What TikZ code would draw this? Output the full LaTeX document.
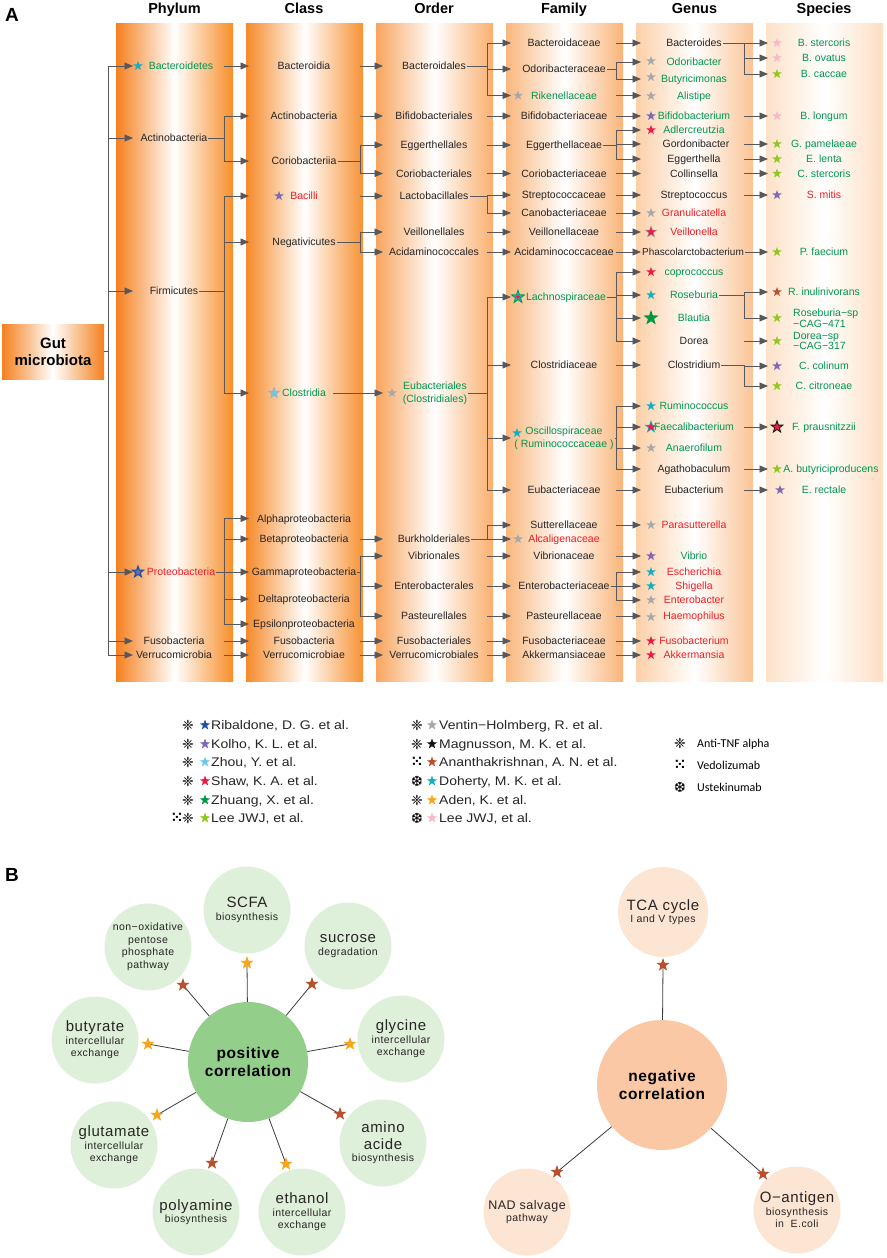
\documentclass[tikz,border=0pt]{standalone}
\usepackage{fontspec}
\setmainfont{Liberation Sans}
\newfontfamily\symfont{DejaVu Sans}
\newfontfamily\bfont[LetterSpace=4]{Liberation Sans}
\newfontfamily\legfont[FakeStretch=1.12]{Liberation Sans}
\newfontfamily\carl{Carlito}
\usetikzlibrary{arrows.meta,shapes.geometric,calc}
\definecolor{orA}{RGB}{245,128,31}
\definecolor{orA2}{RGB}{247,142,40}
\definecolor{orB}{RGB}{246,138,42}
\definecolor{orB2}{RGB}{247,146,52}
\definecolor{orC}{RGB}{248,165,95}
\definecolor{orC2}{RGB}{249,175,110}
\definecolor{orD}{RGB}{249,183,125}
\definecolor{orD2}{RGB}{249,180,120}
\definecolor{orE}{RGB}{252,208,168}
\definecolor{orE2}{RGB}{250,196,150}
\definecolor{orF}{RGB}{253,226,201}
\definecolor{orF2}{RGB}{253,222,195}
\definecolor{lnc}{RGB}{88,88,92}
\definecolor{txk}{RGB}{40,36,37}
\definecolor{txg}{RGB}{0,150,80}
\definecolor{txr}{RGB}{237,28,36}
\definecolor{cRib}{RGB}{30,80,165}
\definecolor{cKol}{RGB}{125,105,180}
\definecolor{cZhou}{RGB}{110,200,235}
\definecolor{cShaw}{RGB}{238,25,70}
\definecolor{cZhuang}{RGB}{0,150,70}
\definecolor{cLee}{RGB}{145,200,30}
\definecolor{cVen}{RGB}{165,168,172}
\definecolor{cMag}{RGB}{20,20,20}
\definecolor{cAna}{RGB}{185,80,45}
\definecolor{cDoh}{RGB}{20,175,195}
\definecolor{cAden}{RGB}{248,165,25}
\definecolor{cLeeP}{RGB}{248,185,195}
\definecolor{posG}{RGB}{147,207,139}
\definecolor{satG}{RGB}{222,240,217}
\definecolor{negC}{RGB}{250,200,165}
\definecolor{satP}{RGB}{253,229,211}
\definecolor{lnB}{RGB}{60,60,60}
\newcommand\bbg{\bfont\fontsize{15}{17}\selectfont}
\newcommand\bsm{\bfont\fontsize{10.5}{12.5}\selectfont}
\newcommand\tnd[4]{\node[#1] (#2) at (#3) {#4};}
\newcommand\Str[4][10]{\node[st,fill=#3,minimum size=#1pt] (#2) at (#4) {};}
\newcommand\sarr[3]{\draw[arr] (#1 -| J#3) -- (#2 -| T#3);}
\newcommand\brarr[3]{\draw[arr] (#1 -| J#3) |- (#2 -| T#3);}
\newcommand\stemln[2]{\draw[ln] (#1.east) -- (#1 -| J#2);}
\begin{document}
\begin{tikzpicture}[x=1pt,y=-1pt,
 tx/.style={font=\fontsize{10.5}{12}\selectfont, inner sep=1pt, text height=7.6pt, text depth=0.6pt, text=txk},
 tg/.style={tx,text=txg}, tr/.style={tx,text=txr},
 tml/.style={tx, text height=, text depth=, align=center, font=\fontsize{10.5}{13}\selectfont},
 hdr/.style={font=\bfseries\fontsize{14.5}{16}\selectfont, anchor=base, inner sep=0pt, text=black},
 arr/.style={draw=lnc, line width=0.9pt, -{Triangle[length=8.5pt,width=7pt]}},
 ln/.style={draw=lnc, line width=0.9pt},
 st/.style={star, star points=5, star point ratio=2.5, inner sep=0pt, minimum size=10pt, draw=none},
 leg/.style={anchor=west, inner sep=0pt, font=\legfont\fontsize{12.5}{14}\selectfont, text=txk, text height=9pt, text depth=0pt},
 sym/.style={inner sep=0pt, font=\symfont\bfseries\fontsize{14}{14}\selectfont, text=black},
 psat/.style={circle, fill=satG, minimum size=87pt, inner sep=0pt, align=center, text=txk, font=\bsm},
 nsat/.style={psat, fill=satP},
 bln/.style={draw=lnB, line width=0.8pt}]
\useasboundingbox (0,0) rectangle (886,1258);
% ---------- bars
\shade[left color=orA,right color=orA2,middle color=white] (116,23) rectangle (233,681);
\shade[left color=orB,right color=orB2,middle color=white] (246,23) rectangle (363,681);
\shade[left color=orC,right color=orC2,middle color=white] (376,23) rectangle (493,681);
\shade[left color=orD,right color=orD2,middle color=white] (506,23) rectangle (623,681);
\shade[left color=orE,right color=orE2,middle color=white] (636,23) rectangle (753,681);
\shade[left color=orF,right color=orF2,middle color=white] (766,23) rectangle (883,681);
% ---------- headers
\node[font=\bfseries\fontsize{19}{20}\selectfont, anchor=base west, inner sep=0pt] (lA) at (5,21.5) {A};
\node[hdr] (hP) at (174.5,13.5) {Phylum};
\node[hdr] (hC) at (304,13.5) {Class};
\node[hdr] (hO) at (434,13.5) {Order};
\node[hdr] (hF) at (564,13.5) {Family};
\node[hdr] (hG) at (694.5,13.5) {Genus};
\node[hdr] (hS) at (824,13.5) {Species};
% ---------- column coordinates
\coordinate (J0) at (108,0); \coordinate (T0) at (133,0);
\coordinate (J1) at (224,0); \coordinate (T1) at (249,0);
\coordinate (J2) at (360,0); \coordinate (T2) at (383,0);
\coordinate (J3) at (487,0); \coordinate (T3) at (511,0);
\coordinate (J4) at (616,0); \coordinate (T4) at (641,0);
\coordinate (J5) at (744,0); \coordinate (T5) at (768,0);
% ---------- root
\node[left color=orA, right color=orA, middle color=white, minimum width=102pt, minimum height=55pt, inner sep=0pt, align=center, font=\bfseries\fontsize{15}{17}\selectfont, text=black] (gut) at (53,351.5) {Gut\\microbiota};
% ---------- phylum
\tnd{tg}{p1}{181,66}{Bacteroidetes}
\tnd{tx}{p2}{174,138}{Actinobacteria}
\tnd{tx}{p3}{174,291}{Firmicutes}
\tnd{tr}{p4}{181,572}{Proteobacteria}
\tnd{tx}{p5}{174,641}{Fusobacteria}
\tnd{tx}{p6}{174,655}{Verrucomicrobia}
% ---------- class
\tnd{tx}{c1}{304,66}{Bacteroidia}
\tnd{tx}{c2}{304,116}{Actinobacteria}
\tnd{tx}{c3}{304,161}{Coriobacteriia}
\tnd{tr}{c4}{304,196}{Bacilli}
\tnd{tx}{c5}{304,242}{Negativicutes}
\tnd{tg}{c6}{304,393}{Clostridia}
\tnd{tx}{c7}{304,518.5}{Alphaproteobacteria}
\tnd{tx}{c8}{304,539}{Betaproteobacteria}
\tnd{tx}{c9}{304,572}{Gammaproteobacteria}
\tnd{tx}{c10}{304,599}{Deltaproteobacteria}
\tnd{tx}{c11}{304,624}{Epsilonproteobacteria}
\tnd{tx}{c12}{304,641}{Fusobacteria}
\tnd{tx}{c13}{304,655}{Verrucomicrobiae}
% ---------- order
\tnd{tx}{o1}{434,66}{Bacteroidales}
\tnd{tx}{o2}{434,116}{Bifidobacteriales}
\tnd{tx}{o3}{434,145}{Eggerthellales}
\tnd{tx}{o4}{434,173.5}{Coriobacteriales}
\tnd{tx}{o5}{434,196}{Lactobacillales}
\tnd{tx}{o6}{434,232}{Veillonellales}
\tnd{tx}{o7}{434,252}{Acidaminococcales}
\node[tml,text=txg] (o8) at (435,393) {Eubacteriales\\(Clostridiales)};
\tnd{tx}{o9}{434,539}{Burkholderiales}
\tnd{tx}{o10}{434,556}{Vibrionales}
\tnd{tx}{o11}{434,586}{Enterobacterales}
\tnd{tx}{o12}{434,616}{Pasteurellales}
\tnd{tx}{o13}{434,641}{Fusobacteriales}
\tnd{tx}{o14}{434,655}{Verrucomicrobiales}
% ---------- family
\tnd{tx}{f1}{564,43}{Bacteroidaceae}
\tnd{tx}{f2}{564,69}{Odoribacteraceae}
\tnd{tg}{f3}{564,95.5}{Rikenellaceae}
\tnd{tx}{f4}{564,116}{Bifidobacteriaceae}
\tnd{tx}{f5}{564,145}{Eggerthellaceae}
\tnd{tx}{f6}{564,173.5}{Coriobacteriaceae}
\tnd{tx}{f7}{564,195}{Streptococcaceae}
\tnd{tx}{f8}{564,213}{Canobacteriaceae}
\tnd{tx}{f9}{564,232}{Veillonellaceae}
\tnd{tx}{f10}{564,252}{Acidaminococcaceae}
\tnd{tg}{f11}{566,297}{Lachnospiraceae}
\tnd{tx}{f12}{564,365}{Clostridiaceae}
\node[tml,text=txg] (f13) at (564,438) {Oscillospiraceae\\( Ruminococcaceae )};
\tnd{tx}{f14}{564,490}{Eubacteriaceae}
\tnd{tx}{f15}{564,525}{Sutterellaceae}
\tnd{tr}{f16}{564,539}{Alcaligenaceae}
\tnd{tx}{f17}{564,556}{Vibrionaceae}
\tnd{tx}{f18}{564,586}{Enterobacteriaceae}
\tnd{tx}{f19}{564,616}{Pasteurellaceae}
\tnd{tx}{f20}{564,641}{Fusobacteriaceae}
\tnd{tx}{f21}{564,655}{Akkermansiaceae}
% ---------- genus
\tnd{tx}{g1}{694,43}{Bacteroides}
\tnd{tg}{g2}{694,62}{Odoribacter}
\tnd{tg}{g3}{694,79}{Butyricimonas}
\tnd{tg}{g4}{694,95.5}{Alistipe}
\tnd{tg}{g5}{694,116}{Bifidobacterium}
\tnd{tg}{g6}{694,130}{Adlercreutzia}
\tnd{tx}{g7}{696,144}{Gordonibacter}
\tnd{tx}{g8}{694,159}{Eggerthella}
\tnd{tx}{g9}{694,173.5}{Collinsella}
\tnd{tx}{g10}{694,195}{Streptococcus}
\tnd{tr}{g11}{694,213}{Granulicatella}
\tnd{tr}{g12}{694,232}{Veillonella}
\node[tx,font=\fontsize{10}{12}\selectfont] (g13) at (693,252) {Phascolarctobacterium};
\tnd{tg}{g14}{694,272}{coprococcus}
\tnd{tg}{g15}{694,295}{Roseburia}
\tnd{tg}{g16}{694,318}{Blautia}
\tnd{tx}{g17}{694,341}{Dorea}
\tnd{tx}{g18}{694,365}{Clostridium}
\tnd{tg}{g19}{694,406}{Ruminococcus}
\tnd{tg}{g20}{694,427}{Faecalibacterium}
\tnd{tg}{g21}{694,448}{Anaerofilum}
\tnd{tx}{g22}{694,469}{Agathobaculum}
\tnd{tx}{g23}{694,490}{Eubacterium}
\tnd{tr}{g24}{694,525}{Parasutterella}
\tnd{tg}{g25}{694,556}{Vibrio}
\tnd{tr}{g26}{694,572}{Escherichia}
\tnd{tr}{g27}{694,586}{Shigella}
\tnd{tr}{g28}{694,600}{Enterobacter}
\tnd{tr}{g29}{694,616}{Haemophilus}
\tnd{tr}{g30}{694,641}{Fusobacterium}
\tnd{tr}{g31}{694,655}{Akkermansia}
% ---------- species
\tnd{tg}{sp1}{824,43}{B. stercoris}
\tnd{tg}{sp2}{824,58}{B. ovatus}
\tnd{tg}{sp3}{824,74}{B. caccae}
\tnd{tg}{sp4}{824,116}{B. longum}
\tnd{tg}{sp5}{824,144}{G. pamelaeae}
\tnd{tg}{sp6}{824,159}{E. lenta}
\tnd{tg}{sp7}{824,173.5}{C. stercoris}
\tnd{tr}{sp8}{824,195}{S. mitis}
\tnd{tg}{sp9}{824,252}{P. faecium}
\tnd{tg}{sp10}{824,292}{R. inulinivorans}
\node[tml,text=txg,align=left,anchor=west,font=\fontsize{10.5}{10.5}\selectfont] (sp11) at (792,318) {Roseburia−sp\\−CAG−471};
\node[tml,text=txg,align=left,anchor=west,font=\fontsize{10.5}{10.5}\selectfont] (sp12) at (792,341) {Dorea−sp\\−CAG−317};
\tnd{tg}{sp13}{824,366}{C. colinum}
\tnd{tg}{sp14}{824,386}{C. citroneae}
\tnd{tg}{sp15}{824,427}{F. prausnitzzii}
\tnd{tg}{sp16}{831,469}{A. butyriciproducens}
\tnd{tg}{sp17}{824,490}{E. rectale}
% ---------- connectors: root -> phylum
\draw[ln] (gut.east) -- (gut -| J0);
\foreach \n in {p1,p2,p3,p4,p5,p6} {\draw[arr] (gut -| J0) |- (\n -| T0);}
% phylum -> class
\sarr{p1}{c1}{1}
\stemln{p2}{1} \brarr{p2}{c2}{1} \brarr{p2}{c3}{1}
\stemln{p3}{1} \brarr{p3}{c4}{1} \brarr{p3}{c5}{1} \brarr{p3}{c6}{1}
\stemln{p4}{1} \brarr{p4}{c7}{1} \brarr{p4}{c8}{1} \brarr{p4}{c9}{1} \brarr{p4}{c10}{1} \brarr{p4}{c11}{1}
\sarr{p5}{c12}{1} \sarr{p6}{c13}{1}
% class -> order
\sarr{c1}{o1}{2} \sarr{c2}{o2}{2}
\stemln{c3}{2} \brarr{c3}{o3}{2} \brarr{c3}{o4}{2}
\sarr{c4}{o5}{2}
\stemln{c5}{2} \brarr{c5}{o6}{2} \brarr{c5}{o7}{2}
\draw[arr, shorten <=6pt] (c6.east) -- (o8 -| T2);
\sarr{c8}{o9}{2}
\stemln{c9}{2} \brarr{c9}{o10}{2} \brarr{c9}{o11}{2} \brarr{c9}{o12}{2}
\sarr{c12}{o13}{2} \sarr{c13}{o14}{2}
% order -> family
\stemln{o1}{3} \brarr{o1}{f1}{3} \brarr{o1}{f2}{3} \brarr{o1}{f3}{3}
\sarr{o2}{f4}{3} \sarr{o3}{f5}{3} \sarr{o4}{f6}{3}
\stemln{o5}{3} \brarr{o5}{f7}{3} \brarr{o5}{f8}{3}
\sarr{o6}{f9}{3} \sarr{o7}{f10}{3}
\stemln{o8}{3} \brarr{o8}{f11}{3} \brarr{o8}{f12}{3} \brarr{o8}{f13}{3} \brarr{o8}{f14}{3}
\stemln{o9}{3} \brarr{o9}{f15}{3} \brarr{o9}{f16}{3}
\sarr{o10}{f17}{3} \sarr{o11}{f18}{3} \sarr{o12}{f19}{3} \sarr{o13}{f20}{3} \sarr{o14}{f21}{3}
% family -> genus
\sarr{f1}{g1}{4}
\stemln{f2}{4} \brarr{f2}{g2}{4} \brarr{f2}{g3}{4}
\sarr{f3}{g4}{4} \sarr{f4}{g5}{4}
\stemln{f5}{4} \brarr{f5}{g6}{4} \brarr{f5}{g7}{4} \brarr{f5}{g8}{4}
\sarr{f6}{g9}{4} \sarr{f7}{g10}{4} \sarr{f8}{g11}{4} \sarr{f9}{g12}{4} \sarr{f10}{g13}{4}
\stemln{f11}{4} \brarr{f11}{g14}{4} \brarr{f11}{g15}{4} \brarr{f11}{g16}{4} \brarr{f11}{g17}{4}
\sarr{f12}{g18}{4}
\stemln{f13}{4} \brarr{f13}{g19}{4} \brarr{f13}{g20}{4} \brarr{f13}{g21}{4} \brarr{f13}{g22}{4}
\sarr{f14}{g23}{4} \sarr{f15}{g24}{4} \sarr{f17}{g25}{4}
\stemln{f18}{4} \brarr{f18}{g26}{4} \brarr{f18}{g27}{4} \brarr{f18}{g28}{4}
\sarr{f19}{g29}{4} \sarr{f20}{g30}{4} \sarr{f21}{g31}{4}
% genus -> species
\stemln{g1}{5} \brarr{g1}{sp1}{5} \brarr{g1}{sp2}{5} \brarr{g1}{sp3}{5}
\sarr{g5}{sp4}{5} \sarr{g7}{sp5}{5} \sarr{g8}{sp6}{5} \sarr{g9}{sp7}{5} \sarr{g10}{sp8}{5}
\draw[arr] (g13.east) -- (sp9 -| T5);
\stemln{g15}{5} \brarr{g15}{sp10}{5} \brarr{g15}{sp11}{5}
\sarr{g17}{sp12}{5}
\stemln{g18}{5} \brarr{g18}{sp13}{5} \brarr{g18}{sp14}{5}
\sarr{g20}{sp15}{5} \sarr{g22}{sp16}{5} \sarr{g23}{sp17}{5}
% ---------- stars panel A
\Str{xp1}{cDoh}{138,66}
\Str[15]{xp4a}{cRib}{138,572} \Str[7]{xp4b}{cKol}{138,572}
\Str{xc4}{cKol}{279,196}
\Str[13]{xc6a}{cVen}{274,393} \Str[10]{xc6b}{cZhou}{274,393}
\Str{xo8}{cVen}{392,393}
\Str{xf3}{cVen}{518,95.5}
\Str[16]{xf11a}{cZhuang}{518,297} \Str[11]{xf11b}{cDoh}{518,297} \Str[5]{xf11c}{cShaw}{518,297}
\Str{xf13}{cDoh}{517,433}
\Str{xf16}{cVen}{518,539}
\Str{xg2}{cVen}{651,61}
\Str{xg3}{cVen}{651,77}
\Str{xg4}{cVen}{651,96}
\Str{xg5}{cKol}{651,116}
\Str{xg6}{cShaw}{651,130}
\Str{xg11}{cVen}{651,213}
\Str[14]{xg12a}{cVen}{651,232} \Str[10]{xg12b}{cShaw}{651,232}
\Str{xg14}{cShaw}{651,272}
\Str{xg15}{cDoh}{651,295}
\Str[16]{xg16}{cZhuang}{651,318}
\Str{xg19}{cDoh}{651,406}
\Str[14]{xg20a}{cDoh}{651,427} \Str[9]{xg20b}{cShaw}{651,427}
\Str{xg21}{cVen}{651,448}
\Str{xg24}{cVen}{651,525}
\Str{xg25}{cKol}{651,556}
\Str{xg26}{cDoh}{651,572}
\Str{xg27}{cDoh}{651,586}
\Str{xg28}{cVen}{651,600}
\Str{xg29}{cVen}{651,617}
\Str{xg30}{cShaw}{651,641}
\Str{xg31}{cShaw}{651,655}
\Str{xs1}{cLeeP}{777,43}
\Str{xs2}{cLeeP}{777,58}
\Str{xs3}{cLee}{777,74}
\Str{xs4}{cLeeP}{777,116}
\Str{xs5}{cLee}{777,144}
\Str{xs6}{cLee}{777,159}
\Str{xs7}{cLee}{777,173.5}
\Str{xs8}{cKol}{777,195}
\Str{xs9}{cLee}{777,252}
\Str{xs10}{cAna}{777,292}
\Str{xs11}{cLee}{777,318}
\Str{xs12}{cLee}{777,341}
\Str{xs13}{cKol}{777,366}
\Str{xs14}{cLee}{777,386}
\Str[15]{xs15a}{cMag}{777,427} \Str[9]{xs15b}{cShaw}{777,427}
\Str{xs16}{cLee}{777,469}
\Str{xs17}{cKol}{780,490}
% ---------- legend
\node[sym] (ls1) at (188,725) {❈}; \Str[11]{lst1}{cRib}{205,725} \node[leg] (lt1) at (211,725) {Ribaldone, D. G. et al.};
\node[sym] (ls2) at (188,744) {❈}; \Str[11]{lst2}{cKol}{205,744} \node[leg] (lt2) at (211,744) {Kolho, K. L. et al.};
\node[sym] (ls3) at (188,762) {❈}; \Str[11]{lst3}{cZhou}{205,762} \node[leg] (lt3) at (211,762) {Zhou, Y. et al.};
\node[sym] (ls4) at (188,781) {❈}; \Str[11]{lst4}{cShaw}{205,781} \node[leg] (lt4) at (211,781) {Shaw, K. A. et al.};
\node[sym] (ls5) at (188,800) {❈}; \Str[11]{lst5}{cZhuang}{205,800} \node[leg] (lt5) at (211,800) {Zhuang, X. et al.};
\node[sym] (ls6b) at (177,818) {⁙}; \node[sym] (ls6) at (188,818) {❈}; \Str[11]{lst6}{cLee}{205,818} \node[leg] (lt6) at (211,818) {Lee JWJ, et al.};
\node[sym] (lr1) at (417,725) {❈}; \Str[11]{lrt1}{cVen}{432,725} \node[leg] (lrx1) at (439,725) {Ventin−Holmberg, R. et al.};
\node[sym] (lr2) at (417,744) {❈}; \Str[11]{lrt2}{cMag}{432,744} \node[leg] (lrx2) at (439,744) {Magnusson, M. K. et al.};
\node[sym] (lr3) at (417,762) {⁙}; \Str[11]{lrt3}{cAna}{432,762} \node[leg] (lrx3) at (439,762) {Ananthakrishnan, A. N. et al.};
\node[sym] (lr4) at (417,781) {❆}; \Str[11]{lrt4}{cDoh}{432,781} \node[leg] (lrx4) at (439,781) {Doherty, M. K. et al.};
\node[sym] (lr5) at (417,800) {❈}; \Str[11]{lrt5}{cAden}{432,800} \node[leg] (lrx5) at (439,800) {Aden, K. et al.};
\node[sym] (lr6) at (417,818) {❆}; \Str[11]{lrt6}{cLeeP}{432,818} \node[leg] (lrx6) at (439,818) {Lee JWJ, et al.};
\node[sym] (dk1) at (680,743) {❈}; \node[leg,font=\carl\fontsize{12}{14}\selectfont,text=black] (dt1) at (697,743) {Anti-TNF alpha};
\node[sym] (dk2) at (680,765) {⁙}; \node[leg,font=\carl\fontsize{12}{14}\selectfont,text=black] (dt2) at (697,765) {Vedolizumab};
\node[sym] (dk3) at (680,787) {❆}; \node[leg,font=\carl\fontsize{12}{14}\selectfont,text=black] (dt3) at (697,787) {Ustekinumab};
% ---------- panel B
\node[font=\bfseries\fontsize{19}{20}\selectfont, anchor=base west, inner sep=0pt] (lB) at (5,881) {B};
\node[circle, fill=posG, minimum size=120pt, inner sep=0pt, align=center, font=\bfont\bfseries\fontsize{15.5}{17.5}\selectfont, text=black] (pos) at (248,1062) {positive\\correlation};
\node[psat] (scfa) at (247,910) {{\bbg SCFA}\\biosynthesis};
\node[psat] (sucr) at (348,946) {{\bbg sucrose}\\degradation};
\node[psat] (glyc) at (401,1039) {{\bbg glycine}\\intercellular\\exchange};
\node[psat] (amin) at (383,1143) {{\bbg amino}\\[4pt]{\bbg acide}\\biosynthesis};
\node[psat] (etha) at (302,1212) {{\bbg ethanol}\\intercellular\\exchange};
\node[psat] (poly) at (196,1212) {{\bbg polyamine}\\biosynthesis};
\node[psat] (glut) at (114,1145) {{\bbg glutamate}\\intercellular\\exchange};
\node[psat] (buty) at (95,1040) {{\bbg butyrate}\\intercellular\\exchange};
\node[psat] (pent) at (148,947) {non−oxidative\\pentose\\phosphate\\pathway};
\coordinate (k1) at (247,963);
\coordinate (k2) at (312,984);
\coordinate (k3) at (350,1044);
\coordinate (k4) at (340,1114);
\coordinate (k5) at (286,1164);
\coordinate (k6) at (212,1163);
\coordinate (k7) at (157,1115);
\coordinate (k8) at (148,1044);
\coordinate (k9) at (183,985);
\foreach \k in {k1,k2,k3,k4,k5,k6,k7,k8,k9} {\draw[bln] (pos) -- (\k);}
\Str[14]{sk1}{cAden}{247,963}
\Str[14]{sk2}{cAna}{312,984}
\Str[14]{sk3}{cAden}{350,1044}
\Str[14]{sk4}{cAna}{340,1114}
\Str[14]{sk5}{cAden}{286,1164}
\Str[14]{sk6}{cAna}{212,1163}
\Str[14]{sk7}{cAden}{157,1115}
\Str[14]{sk8}{cAden}{148,1044}
\Str[14]{sk9}{cAna}{183,985}
\node[circle, fill=negC, minimum size=130pt, inner sep=0pt, align=center, font=\bfont\bfseries\fontsize{15.5}{17.5}\selectfont, text=black] (neg) at (662,1085) {negative\\correlation};
\node[nsat, minimum size=90pt] (tca) at (663,912) {{\bbg TCA cycle}\\I and V types};
\node[nsat] (nad) at (527,1212) {{\bfont\fontsize{12.5}{14}\selectfont NAD salvage}\\pathway};
\node[nsat] (oant) at (797,1210) {{\bbg O−antigen}\\biosynthesis\\in~~E.coli};
\coordinate (k10) at (663,965);
\coordinate (k11) at (557,1172);
\coordinate (k12) at (763,1174);
\foreach \k in {k10,k11,k12} {\draw[bln] (neg) -- (\k);}
\Str[14]{sk10}{cAna}{663,965}
\Str[14]{sk11}{cAna}{557,1172}
\Str[14]{sk12}{cAna}{763,1174}
\end{tikzpicture}
\end{document}
